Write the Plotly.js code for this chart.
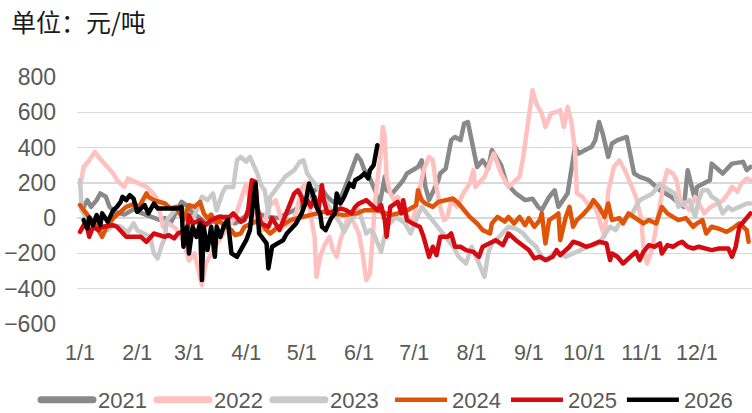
<!DOCTYPE html>
<html><head><meta charset="utf-8">
<script src="https://cdn.plot.ly/plotly-3.0.1.min.js"></script>
<style>
html,body{margin:0;padding:0;background:#fff;}
#chart{width:752px;height:413px;}
.scatterlayer path.js-line{stroke-linejoin:round;stroke-linecap:round;}
.legend .legendlines path{stroke-width:7px !important;stroke-linecap:round;}
</style></head>
<body><div id="chart"></div>
<script>
const seriesNames = ['2021','2022','2023','2024','2025','2026'];
const monthTicks = ['1/1','2/1','3/1','4/1','5/1','6/1','7/1','8/1','9/1','10/1','11/1','12/1'];

const d2021 = ['1/2','1/5','1/7','1/10','1/12','1/15','1/17','1/20','1/25','1/30','2/3','2/8','2/13','2/16','2/19','2/23','2/25','2/28','3/3','3/7','3/10','3/14','3/18','3/22','3/26','3/30','4/3','4/7','4/12','4/18','4/22','4/27','5/2','5/8','5/11','5/15','5/18','5/22','5/26','5/29','5/31','6/2','6/4','6/6','6/8','6/10','6/12','6/15','6/16','6/19','6/22','6/25','6/27','7/3','7/5','7/7','7/9','7/14','7/15','7/18','7/21','7/23','7/26','7/28','7/30','8/1','8/2','8/4','8/7','8/10','8/12','8/14','8/17','8/20','8/25','8/30','9/3','9/6','9/8','9/12','9/15','9/17','9/22','9/24','9/26','9/28','10/2','10/5','10/7','10/9','10/11','10/14','10/16','10/19','10/24','10/26','10/28','10/31','11/5','11/11','11/17','11/24','11/26','11/30','12/1','12/8','12/9','12/15','12/20','12/26','12/28','12/30'];
const v2021 = [45,102,64,102,140,121,64,36,20,50,30,10,-10,0,-30,55,92,70,30,0,-30,-20,10,-10,-30,0,20,27,10,0,20,45,80,158,177,120,92,110,215,290,356,328,272,250,196,150,64,234,158,140,177,215,253,290,328,177,102,215,253,281,442,460,442,536,545,442,366,290,328,281,385,347,300,196,140,102,110,64,45,120,158,64,140,272,404,366,385,404,442,545,480,347,423,442,460,366,253,234,215,158,121,64,272,102,177,215,309,253,309,319,272,290];

const d2022 = ['1/1','1/3','1/6','1/9','1/11','1/16','1/19','1/21','1/25','1/27','2/2','2/6','2/8','2/11','2/13','2/15','2/18','2/22','2/26','3/1','3/4','3/6','3/8','3/10','3/13','3/15','3/19','3/22','3/26','3/29','4/1','4/5','4/10','4/13','4/17','4/19','4/21','4/25','4/28','5/1','5/3','5/6','5/8','5/9','5/11','5/13','5/16','5/18','5/20','5/22','5/24','5/26','5/29','6/1','6/3','6/5','6/7','6/10','6/13','6/14','6/15','6/16','6/18','6/20','6/22','6/26','6/30','7/4','7/6','7/9','7/11','7/13','7/15','7/17','7/19','7/21','7/24','7/28','7/31','8/2','8/3','8/8','8/11','8/13','8/17','8/21','8/27','8/29','9/1','9/3','9/5','9/8','9/10','9/13','9/16','9/18','9/20','9/22','9/24','9/26','9/27','9/30','10/4','10/7','10/12','10/14','10/17','10/20','10/23','10/26','10/29','11/1','11/2','11/4','11/6','11/8','11/11','11/13','11/15','11/18','11/20','11/22','11/27','11/30','12/5','12/8','12/12','12/15','12/18','12/20','12/23','12/25','12/28','12/30'];
const v2022 = [177,290,328,375,347,290,253,215,177,225,196,177,158,121,45,-50,-30,-60,-130,-240,-200,-295,-380,-260,-200,-162,-100,-49,7,102,196,7,-68,64,102,27,-49,-30,27,168,196,7,-106,-333,-219,-162,-106,-181,-219,-125,-49,7,-20,-87,-200,-351,-313,121,385,517,460,234,140,102,121,27,-30,177,272,347,328,177,64,-11,7,102,64,150,196,272,177,234,309,366,253,177,234,347,574,725,650,593,517,593,602,612,517,631,550,385,140,121,64,64,-106,150,290,328,272,200,121,-11,-162,-257,-200,-106,64,196,272,253,215,102,45,121,27,60,83,100,140,177,150,196,225,215];

const d2023 = ['1/1','1/2','1/4','1/8','1/12','1/16','1/19','1/23','1/27','1/30','2/1','2/8','2/10','2/12','2/14','2/16','2/17','2/21','2/25','3/2','3/6','3/8','3/11','3/14','3/16','3/19','3/21','3/25','3/27','3/29','4/1','4/3','4/7','4/9','4/11','4/13','4/14','4/20','4/22','4/27','4/30','5/2','5/4','5/10','5/17','5/22','5/24','5/27','6/1','6/5','6/7','6/9','6/11','6/13','6/16','6/21','6/26','6/29','7/5','7/8','7/14','7/18','7/22','7/25','7/29','8/1','8/5','8/8','8/10','8/12','8/16','8/19','8/21','8/25','8/29','9/1','9/5','9/8','9/11','9/14','9/18','9/21','9/25','9/28','10/2','10/5','10/9','10/13','10/15','10/18','10/21','10/24','10/27','10/31','11/3','11/7','11/11','11/13','11/19','11/21','11/27','11/30','12/2','12/4','12/7','12/9','12/12','12/15','12/18','12/20','12/24','12/28','12/30'];
const v2023 = [215,45,7,-20,-40,-68,-40,-49,-80,-30,-68,-106,-200,-228,-162,-106,-11,40,64,-30,64,121,102,140,45,140,177,177,328,347,320,347,253,187,158,27,121,206,234,272,319,328,253,168,45,-30,-78,-20,45,-87,-68,-87,-143,-190,-50,7,-30,-87,64,27,-49,-106,-162,-219,-257,-162,-257,-333,-200,-143,-106,-68,-49,-60,-87,-125,-162,-219,-238,-200,-200,-219,-200,-181,-162,-153,-143,-87,-49,-68,-11,7,27,102,121,140,196,177,140,64,102,7,102,158,158,121,102,27,64,45,64,83,83];

const d2024 = ['1/1','1/3','1/5','1/10','1/13','1/15','1/19','1/22','1/26','1/30','2/2','2/6','2/7','2/10','2/14','2/16','2/19','2/22','2/26','3/1','3/4','3/7','3/9','3/11','3/13','3/16','3/17','3/21','3/24','3/26','3/29','3/31','4/4','4/8','4/12','4/14','4/17','4/20','4/22','4/25','4/29','5/2','5/6','5/10','5/13','5/17','5/24','5/31','6/4','6/11','6/15','6/18','6/26','6/29','7/2','7/3','7/5','7/7','7/11','7/14','7/18','7/22','7/25','7/29','7/31','8/4','8/7','8/11','8/12','8/15','8/19','8/21','8/24','8/27','8/30','9/1','9/4','9/7','9/8','9/10','9/12','9/15','9/17','9/18','9/21','9/23','9/25','9/27','9/30','10/4','10/6','10/9','10/12','10/14','10/16','10/20','10/22','10/25','10/29','11/2','11/5','11/9','11/12','11/15','11/18','11/21','11/25','11/29','12/1','12/4','12/6','12/9','12/13','12/17','12/20','12/24','12/28','12/29'];
const v2024 = [74,45,17,-49,-106,-58,0,30,64,80,64,140,121,102,92,83,55,64,-11,74,64,92,27,0,20,-30,-10,-49,-68,-96,-87,-49,-30,-11,-68,-87,-60,-40,-30,-11,0,7,17,27,36,27,17,27,45,45,27,17,36,55,74,158,102,83,64,92,102,111,83,36,7,-30,-68,-87,-30,7,-20,7,-30,7,-40,0,-49,-10,27,-143,-11,10,27,-125,7,64,-49,-11,17,64,102,64,7,83,-11,0,-30,27,0,-30,-11,-30,64,27,7,-11,0,-49,-30,-11,-87,-49,-60,-78,-60,-30,-68,-134];

const d2025 = ['1/1','1/3','1/5','1/6','1/8','1/11','1/13','1/19','1/21','1/24','1/26','1/30','2/3','2/6','2/8','2/10','2/16','2/18','2/21','2/23','2/28','3/1','3/3','3/7','3/10','3/13','3/17','3/23','3/25','3/29','3/31','4/2','4/4','4/6','4/7','4/9','4/13','4/15','4/19','4/22','4/25','4/27','4/29','5/1','5/2','5/4','5/6','5/8','5/10','5/12','5/13','5/15','5/20','5/22','5/25','5/28','5/30','6/1','6/3','6/5','6/7','6/9','6/11','6/13','6/15','6/16','6/18','6/22','6/24','6/25','6/27','6/30','7/4','7/6','7/9','7/11','7/13','7/15','7/19','7/21','7/23','7/26','7/29','8/2','8/5','8/7','8/11','8/14','8/18','8/21','8/25','8/29','9/1','9/4','9/7','9/10','9/14','9/16','9/18','9/21','9/23','9/25','9/28','10/2','10/5','10/9','10/13','10/15','10/16','10/19','10/22','10/24','10/27','10/29','10/31','11/2','11/5','11/8','11/11','11/12','11/15','11/18','11/21','11/23','11/26','11/29','12/2','12/6','12/9','12/13','12/18','12/20','12/22','12/24','12/28','12/30'];
const v2025 = [-78,-40,-58,-106,-49,-68,-49,-40,-49,-87,-106,-106,-106,-134,-106,-87,-106,-96,-115,-87,-68,17,-30,-11,-40,-11,7,7,27,-21,-11,45,215,206,64,-30,-49,0,-68,7,83,140,158,121,64,102,64,121,40,187,102,27,45,55,45,27,64,83,92,102,83,64,45,74,-11,-106,64,92,27,102,-11,-30,-49,-106,-219,-162,-210,-106,-106,-87,-162,-162,-181,-191,-219,-162,-143,-125,-153,-87,-125,-153,-181,-228,-219,-238,-219,-181,-210,-181,-162,-134,-143,-162,-153,-134,-143,-238,-200,-219,-257,-238,-210,-191,-238,-191,-153,-162,-143,-200,-153,-162,-143,-134,-162,-172,-162,-172,-181,-172,-172,-219,-162,-49,7,27];

const d2026 = ['1/3','1/5','1/6','1/8','1/10','1/12','1/13','1/16','1/19','1/21','1/23','1/24','1/26','1/28','1/30','2/1','2/5','2/7','2/10','2/12','2/17','2/23','2/25','2/26','2/28','3/1','3/3','3/5','3/7','3/8','3/9','3/11','3/13','3/15','3/16','3/18','3/20','3/22','3/24','3/27','3/29','4/1','4/3','4/4','4/6','4/8','4/12','4/13','4/15','4/18','4/21','4/23','4/28','5/1','5/3','5/5','5/7','5/9','5/11','5/12','5/14','5/17','5/19','5/20','5/22','5/24','5/27','5/29','5/30','6/2','6/4','6/6','6/7','6/9','6/10','6/11'];
const v2026 = [-11,-58,4,-40,17,-40,27,-21,45,64,92,121,102,130,111,36,74,27,83,55,55,55,64,-162,-49,-200,-49,-106,-30,-351,-49,-181,-49,-219,-49,-106,-40,-11,-200,-219,-181,-125,-68,7,196,-87,-143,-285,-162,-143,-125,-87,-30,27,83,196,140,64,27,-49,-68,0,27,140,83,120,196,177,215,234,253,225,272,300,375,413];

const colors = ['#898989','#FFC0C0','#C9C9C9','#E0540A','#D50B12','#000000'];
const dates = [d2021,d2022,d2023,d2024,d2025,d2026];
const values = [v2021,v2022,v2023,v2024,v2025,v2026];

function toDate(md){
  const p = md.split('/');
  return '2021-' + p[0].padStart(2,'0') + '-' + p[1].padStart(2,'0');
}

const traces = seriesNames.map((name,i)=>({
  type:'scatter', mode:'lines', name:name,
  x: dates[i].map(toDate), y: values[i],
  line:{color:colors[i], width:4.5},
  legend: i < 3 ? 'legend' : 'legend2'
}));

const font = 'Liberation Sans, Arial, Noto Sans CJK SC, sans-serif';
const legendBase = {orientation:'h', xref:'container', xanchor:'left', y:13/413, yref:'container', yanchor:'middle',
    font:{size:22, color:'#595959'}, itemwidth:52, tracegroupgap:0, traceorder:'normal', bgcolor:'rgba(0,0,0,0)'};
const layout = {
  width:752, height:413,
  margin:{l:77, r:0, t:77, b:89},
  paper_bgcolor:'#fff', plot_bgcolor:'#fff',
  font:{family:font, color:'#595959', size:22},
  showlegend:true,
  title:{text:'单位：元/吨', x:11/752, xref:'container', xanchor:'left', y:1-23/413, yref:'container', yanchor:'middle', font:{family:'Noto Sans CJK SC, sans-serif', size:25, color:'#1a1a1a'}},
  xaxis:{type:'date', range:['2020-12-30 09:00','2021-12-30 20:00'],
    tickvals: monthTicks.map(toDate), ticktext: monthTicks,
    showgrid:false, zeroline:false, showline:false, ticks:'',
    tickfont:{size:21.5, color:'#595959'}, ticklabelstandoff:13, fixedrange:true},
  yaxis:{range:[-600,800], dtick:200, tick0:0, showgrid:true, gridcolor:'#D9D9D9', gridwidth:1.5,
    zeroline:false, showline:false, ticks:'', tickfont:{size:23, color:'#595959'}, ticklabelstandoff:20},
  legend: Object.assign({}, legendBase, {x:36/752}),
  legend2: Object.assign({}, legendBase, {x:390/752})
};
Plotly.newPlot('chart', traces, layout, {staticPlot:true, displayModeBar:false});
</script></body></html>
